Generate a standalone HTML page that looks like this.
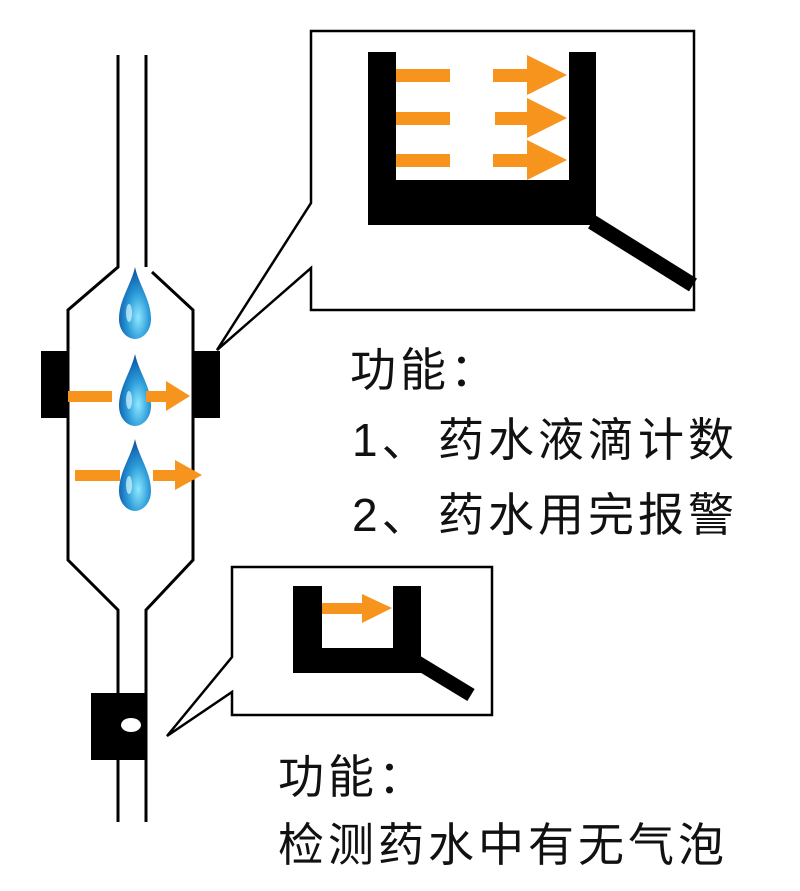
<!DOCTYPE html>
<html><head><meta charset="utf-8"><style>
html,body{margin:0;padding:0;background:#fff;}
svg{display:block;}
text{font-family:"Liberation Sans","Noto Sans CJK SC",sans-serif;fill:#111;font-size:46px;letter-spacing:4px;}
</style></head><body>
<svg width="800" height="891" viewBox="0 0 800 891" xmlns="http://www.w3.org/2000/svg">
<defs>
<radialGradient id="dg" cx="0.6" cy="0.7" r="0.7">
<stop offset="0" stop-color="#8ee8ff"/><stop offset="0.5" stop-color="#2a9ad8"/><stop offset="1" stop-color="#0a4fa0"/>
</radialGradient>
<g id="drop"><path d="M0,-38 C4,-20 16,-5 16,14 C16,26 8,34 0,34 C-8,34 -16,26 -16,14 C-16,-5 -4,-20 0,-38 Z" fill="url(#dg)"/><ellipse cx="-6" cy="8" rx="3" ry="9" fill="#d8f6ff" opacity="0.7"/></g>
</defs>
<g fill="none" stroke="#000" stroke-width="3">
<polyline points="118,55 118,267 68,310 68,560 118,610 118,822"/>
<polyline points="146,55 146,267"/>
<polyline points="152,272 193,310 193,560 146,610 146,822"/>
</g>
<rect x="41" y="351" width="27" height="67" fill="#000"/>
<rect x="193" y="351" width="27" height="67" fill="#000"/>
<rect x="91" y="693" width="54" height="67" fill="#000"/>
<ellipse cx="131" cy="725" rx="10" ry="7" fill="#fff"/>
<use href="#drop" x="135" y="305"/>
<use href="#drop" x="135" y="392"/>
<use href="#drop" x="135" y="477"/>
<g fill="#f7941d">
<rect x="68" y="391" width="44" height="11"/>
<rect x="146" y="391" width="20" height="11"/>
<polygon points="166,381 190,396 166,411"/>
<rect x="75" y="470" width="45" height="11"/>
<rect x="153" y="470" width="22" height="11"/>
<polygon points="175,460 202,475 175,490"/>
</g>
<path d="M311,31 H694 V310 H311 V268 L217,350 L311,203 Z" fill="none" stroke="#000" stroke-width="2.5"/>
<rect x="368" y="52" width="28" height="173" fill="#000"/>
<rect x="569" y="52" width="27" height="173" fill="#000"/>
<rect x="368" y="180" width="228" height="45" fill="#000"/>
<line x1="592" y1="222" x2="693" y2="285" stroke="#000" stroke-width="15"/>
<g fill="#f7941d">
<rect x="396" y="69" width="54" height="13"/>
<rect x="396" y="112" width="54" height="13"/>
<rect x="396" y="154" width="54" height="13"/>
<rect x="493" y="69" width="36" height="13"/><polygon points="527,55 567,75 527,95"/>
<rect x="495" y="112" width="34" height="13"/><polygon points="527,98 567,118 527,138"/>
<rect x="493" y="154" width="36" height="13"/><polygon points="527,140 567,160 527,180"/>
</g>
<path d="M232,567 H492 V715 H232 V692 L167,736 L232,657 Z" fill="none" stroke="#000" stroke-width="2.5"/>
<rect x="293" y="586" width="29" height="87" fill="#000"/>
<rect x="393" y="586" width="28" height="87" fill="#000"/>
<rect x="293" y="648" width="128" height="25" fill="#000"/>
<line x1="415" y1="661" x2="471" y2="695" stroke="#000" stroke-width="14"/>
<g fill="#f7941d">
<rect x="322" y="603" width="42" height="11"/>
<polygon points="362,594 392,608 362,623"/>
</g>
<text x="350" y="386">功能：</text>
<text x="352" y="456">1、</text>
<text x="438" y="456">药水液滴计数</text>
<text x="352" y="531">2、</text>
<text x="438" y="531">药水用完报警</text>
<text x="278" y="793">功能：</text>
<text x="278" y="861">检测药水中有无气泡</text>
</svg>
</body></html>
